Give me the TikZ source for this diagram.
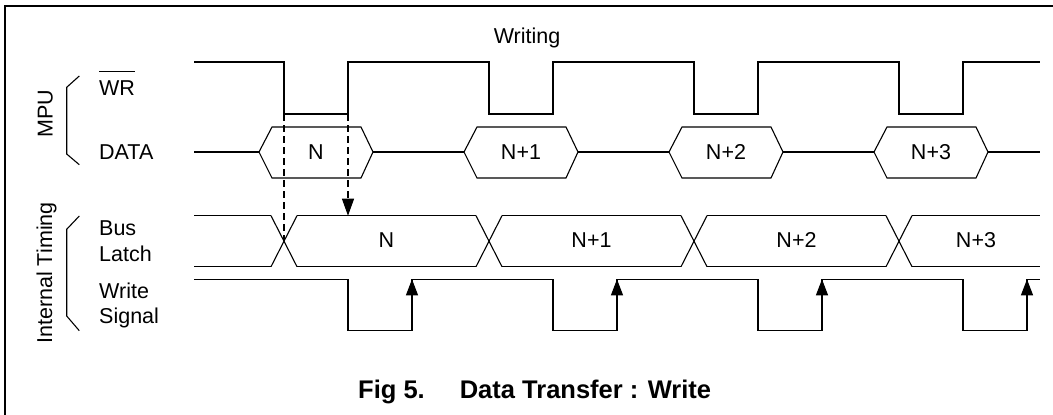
\documentclass[tikz,border=0pt]{standalone}
\usepackage{fontspec}
\setmainfont{Liberation Sans}
\usetikzlibrary{arrows.meta}
\newcommand\ovlbar[1]{\vbox{\hrule height 1pt\kern 8.5pt\hbox{#1}}}
\begin{document}
\begin{tikzpicture}[x=1pt,y=-1pt,
  wave/.style={line width=1.1pt, line join=miter},
  frame/.style={line width=2pt},
  dashline/.style={line width=1.1pt, dash pattern=on 7pt off 4pt},
  lab/.style={font=\fontsize{21.5}{25}\selectfont, inner sep=0pt},
  ttl/.style={font=\fontsize{25.5}{30}\selectfont\bfseries, inner sep=0pt},
  tipup/.style={-{Triangle[length=16pt,width=12pt]}},
  tipdown/.style={-{Triangle[length=17pt,width=12pt]}}]
\useasboundingbox (0,0) rectangle (1053,415);
% frame (only left and top edges visible)
\draw[frame] (5,430) -- (5,5.7) -- (1070,5.7);

% labels
\node[lab, anchor=base] (writing) at (527,43.3) {Writing};
\node[lab, anchor=base, rotate=90] (mpu) at (52.7,113.7) {MPU};
\node[lab, anchor=base, rotate=90] (itm) at (52,273) {Internal Timing};
\node[lab, anchor=base west] (wr) at (99,95.7) {\ovlbar{WR}};
\node[lab, anchor=base west] (data) at (99,159.3) {DATA};
\node[lab, anchor=base west] (bus) at (99,235) {Bus};
\node[lab, anchor=base west] (latch) at (99,261) {Latch};
\node[lab, anchor=base west] (write) at (99,298.5) {Write};
\node[lab, anchor=base west] (signal) at (99,323) {Signal};
\node[ttl, anchor=base west] (title) at (358,398.3) {Fig 5.\hspace{35pt}Data Transfer : Write};

% brackets
\draw[wave] (79.3,76) -- (66.7,87.3) -- (66.7,154) -- (79.3,164.7);
\draw[wave] (79.3,216) -- (66.7,229.3) -- (66.7,316) -- (79.3,330.7);

% WR waveform
\draw[wave] (194,62) \foreach \k in {0,...,3}{ -- ({284+205*\k},62) -- ({284+205*\k},114) -- ({348+205*\k},114) -- ({348+205*\k},62)} -- (1040,62);

% DATA bus
\draw[wave] (194,152) -- (259,152);
\foreach \k/\t in {0/N,1/N+1,2/N+2,3/N+3} {
  \pgfmathsetmacro\L{259+205*\k}
  \pgfmathsetmacro\R{373+205*\k}
  \draw[wave] (\L,152) -- (\L+13,127) -- (\R-12,127) -- (\R,152) -- (\R-12,178) -- (\L+13,178) -- cycle;
  \node[lab, anchor=base] (dat\k) at ({(\L+\R)/2},159.3) {\t};
}
\foreach \k in {0,1,2} \draw[wave] ({373+205*\k},152) -- ({464+205*\k},152);
\draw[wave] (988,152) -- (1040,152);

% Bus Latch
\def\T{215.7}\def\B{266.7}
\draw[wave] (194,\T) -- (271,\T);
\draw[wave] (194,\B) -- (271,\B);
\foreach \k in {0,...,3} {
  \pgfmathsetmacro\C{284+205*\k}
  \draw[wave] (\C-13,\T) -- (\C+13,\B);
  \draw[wave] (\C-13,\B) -- (\C+13,\T);
}
\foreach \k in {0,1,2} {
  \draw[wave] ({297+205*\k},\T) -- ({476+205*\k},\T);
  \draw[wave] ({297+205*\k},\B) -- ({476+205*\k},\B);
}
\draw[wave] (912,\T) -- (1040,\T);
\draw[wave] (912,\B) -- (1040,\B);
\node[lab, anchor=base] (bl0) at (386.5,247.7) {N};
\node[lab, anchor=base] (bl1) at (591.5,247.7) {N+1};
\node[lab, anchor=base] (bl2) at (796.5,247.7) {N+2};
\node[lab, anchor=base] (bl3) at (976,247.7) {N+3};

% Write Signal
\draw[wave] (194,279.3) \foreach \k in {0,...,3}{ -- ({348+205*\k},279.3) -- ({348+205*\k},330.7) -- ({412+205*\k},330.7) -- ({412+205*\k},279.3)} -- (1040,279.3);
\foreach \k in {0,...,3} {
  \coordinate (ra\k) at ({412+205*\k},305);
  \coordinate (rb\k) at ({412+205*\k},279.3);
  \draw[wave, tipup] (ra\k) -- (rb\k);
}

% dashed timing lines
\coordinate (d1top) at (284,114);
\coordinate (d1bot) at (284,241);
\coordinate (d2top) at (348,114);
\coordinate (d2bot) at (348,215.7);
\draw[dashline] (d1top) -- (d1bot);
\draw[dashline, tipdown] (d2top) -- (d2bot);
\end{tikzpicture}
\end{document}
